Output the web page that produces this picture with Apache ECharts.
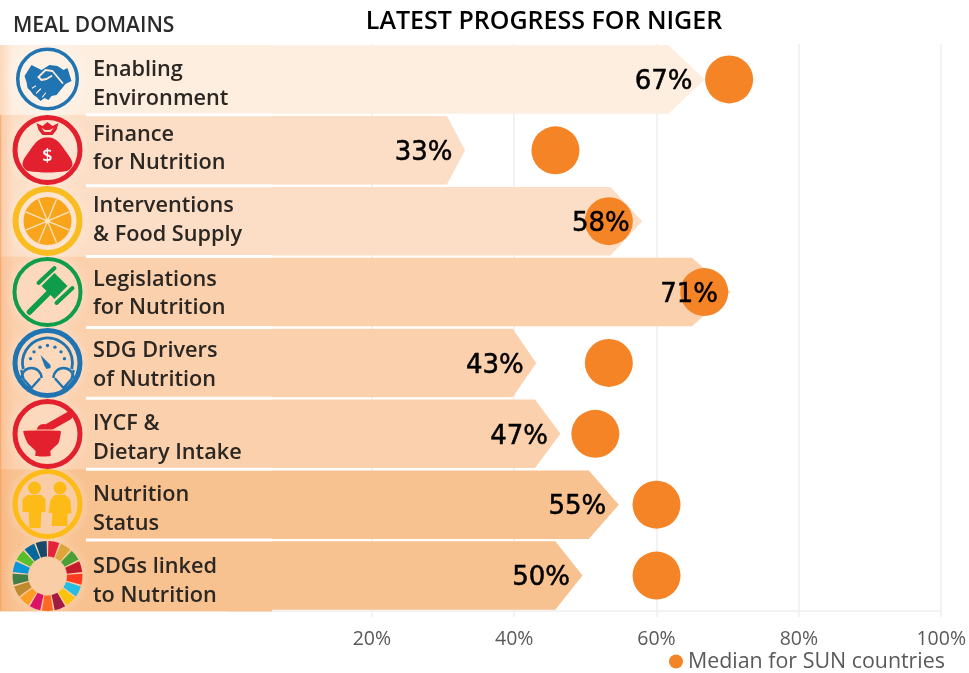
<!DOCTYPE html>
<html><head><meta charset="utf-8">
<style>html,body{margin:0;padding:0;background:#fff}#c{width:969px;height:673px}</style>
<script src="https://cdn.jsdelivr.net/npm/echarts@6/dist/echarts.min.js"></script>
</head><body><div id="c"></div>
<script>
const domainLines = [["Enabling","Environment"],["Finance","for Nutrition"],["Interventions","& Food Supply"],["Legislations","for Nutrition"],["SDG Drivers","of Nutrition"],["IYCF &","Dietary Intake"],["Nutrition","Status"],["SDGs linked","to Nutrition"]];
const categories = domainLines.map(d => d.join(" "));
const printedPercent = [67,33,58,71,43,47,55,50];
const barEnds = [66.8,33.1,58,70.4,43.1,46.5,54.7,49.6];
const medianSun = [70.2,45.8,53.3,66.7,53.3,51.4,60,60];
const tickValues = [20,40,60,80,100];
const rowColors = ["#fdeee0","#fcdec6","#fcdec6","#fbd0ad","#fbd0ad","#fbd0ad","#f8c190","#f8c190"];
const sdgColors = ["#e5243b","#dda63a","#4c9f38","#c5192d","#ff3a21","#26bde2","#fcc30b","#a21942","#fd6925","#dd1367","#fd9d24","#bf8b2e","#3f7e44","#0a97d9","#56c02b","#00689d","#19486a"];

const Z = 100, PL = 272, TOP = 44, BAND = 70.875;
const g = [];
const add = o => { o.z = Z + (o.z || 0); o.silent = true; g.push(o); };
const rowY = i => TOP + BAND * i;
// panel
rowColors.forEach((c,i)=> add({type:'rect',shape:{x:0,y:i===0?45:rowY(i),width:PL,height:i===0?BAND-1:BAND+0.5},style:{fill:c}}));
add({type:'rect',shape:{x:0,y:45,width:12,height:BAND-1},style:{fill:{type:'linear',x:0,y:0,x2:1,y2:0,colorStops:[{offset:0,color:'rgba(250,190,140,0.45)'},{offset:1,color:'rgba(250,190,140,0)'}]}},z:1});
add({type:'rect',shape:{x:0,y:rowY(1),width:14,height:BAND*7},style:{fill:{type:'linear',x:0,y:0,x2:1,y2:0,colorStops:[{offset:0,color:'rgba(246,150,75,0.85)'},{offset:0.14,color:'rgba(247,170,110,0.3)'},{offset:1,color:'rgba(247,170,110,0)'}]}},z:1});
for(let i=1;i<8;i++) add({type:'rect',shape:{x:86,y:rowY(i)-1.6,width:PL-86,height:3},style:{fill:'#fff'},z:2});

const cx = 47.5, cys=[79,150,221,292,363,434,504,576];
const rOuter=[31.5,35,35,35,35,35,35,35], rw=[3.5,5,6,4,5,5,5,0];
const ringCol=['#1f74b1','#e3202e','#f9bd22','#0f9d4b','#1f74b1','#e3202e','#fdbb18',''];
cys.forEach((cy,i)=>{
  add({type:'circle',shape:{cx,cy,r:44},style:{fill:{type:'radial',x:.5,y:.5,r:.5,colorStops:[{offset:0,color:'rgba(255,255,255,0.2)'},{offset:.75,color:'rgba(255,255,255,0.18)'},{offset:1,color:'rgba(255,255,255,0)'}]}},z:1});
  if(rw[i]) add({type:'circle',shape:{cx,cy,r:rOuter[i]-rw[i]/2},style:{fill:'none',stroke:ringCol[i],lineWidth:rw[i]},z:3});
});
const poly=(i,pts,fill,smooth)=>add({type:'polygon',shape:{points:pts.map(p=>[cx+p[0],cys[i]+p[1]]),smooth:smooth||0},style:{fill},z:4});
const line=(i,a,b,stroke,w,z)=>add({type:'line',shape:{x1:cx+a[0],y1:cys[i]+a[1],x2:cx+b[0],y2:cys[i]+b[1]},style:{stroke,lineWidth:w,lineCap:'round'},z:z||4});
const pl=(i,pts,stroke,w,z)=>add({type:'polyline',shape:{points:pts.map(p=>[cx+p[0],cys[i]+p[1]])},style:{stroke,lineWidth:w,fill:'none',lineCap:'round',lineJoin:'round'},z:z||5});
const dot=(i,x,y,r,fill,z)=>add({type:'circle',shape:{cx:cx+x,cy:cys[i]+y,r},style:{fill},z:z||4});
// handshake
poly(0,[[-23,-3],[-16,-14],[-6,-9],[2,-14],[10,-13],[16,-9],[20,-11],[24,2],[18,5],[9,16],[4,17],[1,21],[-3,19],[-7,22],[-11,18],[-14,16],[-17,12],[-20,9],[-21,3]],'#1f74b1');
pl(0,[[-9,-2],[-2,-9],[5,-8],[15,4]],'#fde9d8',1.8);
pl(0,[[-9,-2],[-6,1],[-1,0],[4,-3]],'#fde9d8',1.8);
pl(0,[[-15,9],[-12,7]],'#fde9d8',1.2);pl(0,[[-11,14],[-7,10]],'#fde9d8',1.2);pl(0,[[-5,18],[-2,14]],'#fde9d8',1.2);
// bag
poly(1,[[-7,-11],[7,-11],[18,1],[25,14],[19,21],[-19,21],[-25,14],[-18,1]],'#e3202e',0.35);
poly(1,[[-11,-27],[-5,-24],[0,-28],[5,-24],[11,-27],[9,-20],[5,-15],[-5,-15],[-9,-20]],'#e3202e');
poly(1,[[-6,-22],[-2,-20],[2,-20],[6,-22],[3,-18],[-3,-18]],'#fcdec6');
add({type:'text',style:{x:cx,y:cys[1]+7,text:'$',fill:'#fff',font:'600 18px "Open Sans"',align:'center',verticalAlign:'middle'},z:5});
// citrus
dot(2,0,0,24,'#f9a51c');
for(let k=0;k<4;k++){const a=Math.PI/8+k*Math.PI/4,x=23*Math.cos(a),y=23*Math.sin(a);line(2,[-x,-y],[x,y],'#fde3c0',1.3,5);}
dot(2,0,0,2.5,'#fde3c0',6);
// gavel
poly(3,[[-6,-6],[7,-19],[20,-6],[7,7]],'#0f9d4b');
line(3,[-18,20],[2,0],'#0f9d4b',5.5);
line(3,[-9,-9],[7,-24],'#0f9d4b',4);
line(3,[9,11],[25,-4],'#0f9d4b',4);
// gauge
const c4='#1f74b1';
add({type:'arc',shape:{cx,cy:cys[4],r:25,startAngle:Math.PI*0.92,endAngle:Math.PI*2.08,clockwise:true},style:{stroke:c4,lineWidth:2.8,fill:'none'},z:4});
[-1,1].forEach(s=>{add({type:'arc',shape:{cx:cx+s*16,cy:cys[4]+15,r:10,startAngle:Math.PI*1.0,endAngle:Math.PI*2.0,clockwise:true},style:{stroke:c4,lineWidth:2.4,fill:'none'},z:4});});
pl(4,[[-26,8],[-24,16],[-16,25],[-8,16]],c4,2.4,4);pl(4,[[26,8],[24,16],[16,25],[8,16]],c4,2.4,4);
for(let k=0;k<7;k++){const a=Math.PI*(1.08+k*0.14);dot(4,17.5*Math.cos(a),17.5*Math.sin(a),1.7,c4);}
poly(4,[[-7,-8],[3,2],[3,5],[-1,6],[-3,3]],c4);
// bowl
const c5='#e3202e';
poly(5,[[-24,-3],[13,-3],[11,9],[3,17],[3,22],[-12,22],[-12,17],[-20,9]],c5,0.15);
dot(5,-4,-3,7,c5);line(5,[-2,-5],[21,-18],c5,8);line(5,[-24,-4],[14,-4],'#fbd0ad',1.2,5);
// people
const c6='#fdbb18';
dot(6,-13,-16,6.5,c6);dot(6,12.5,-16,6.5,c6);
poly(6,[[-20,-9],[-6,-9],[-2,-5],[-2,8],[-6,8],[-7,24],[-18,24],[-19,8],[-25,8],[-25,-5]],c6);
poly(6,[[7,-9],[18,-9],[23,-4],[24,9],[20,10],[20,22],[4,22],[5,9],[1,9],[3,-4]],c6);
// SDG wheel
sdgColors.forEach((c,k)=>{const st=-Math.PI/2+k*2*Math.PI/17;add({type:'sector',shape:{cx,cy:cys[7],r:35,r0:19.5,startAngle:st+0.025,endAngle:st+2*Math.PI/17-0.025,clockwise:true},style:{fill:c},z:3});});
// labels
const labY=[[67,96],[132,160],[203,232],[277,305],[348,377],[421,450],[492,521],[564,593]];
domainLines.forEach((l,i)=>l.forEach((t,j)=>add({type:'text',style:{x:93,y:labY[i][j]+2.5,text:t,fill:'#2b2723',font:'600 21.7px "Open Sans"',verticalAlign:'middle'},z:6})));
const titleEls=[{type:'text',z:Z,silent:true,style:{x:13,y:26,text:'MEAL DOMAINS',fill:'#2b2b2b',font:'600 21px "Open Sans"',verticalAlign:'middle'}},
 {type:'text',z:Z,silent:true,style:{x:544,y:22,text:'LATEST PROGRESS FOR NIGER',fill:'#000',font:'600 25px "Open Sans"',align:'center',verticalAlign:'middle'}}];
titleEls.forEach(t=>g.push(t));

const chart = echarts.init(document.getElementById('c'),null,{renderer:'canvas'});
chart.setOption({
  animation:false,
  grid:{left:229.5,right:27,top:TOP,bottom:673-611,containLabel:false},
  xAxis:{type:'value',min:0,max:100,interval:20,
    axisLine:{show:true,lineStyle:{color:'#eeeeee',width:1.5}},
    axisTick:{show:true,length:6,lineStyle:{color:'#eeeeee',width:1.5},customValues:tickValues},
    axisLabel:{margin:18,color:'#595959',fontFamily:'"Open Sans"',fontSize:19.5,customValues:tickValues,formatter:v=>v+'%'},
    splitLine:{show:true,lineStyle:{color:'#eeeeee',width:1.5}}},
  yAxis:{type:'category',inverse:true,data:categories,show:false},
  legend:{data:['Median for SUN countries'],left:664,top:646,icon:'circle',itemWidth:14,itemHeight:14,itemGap:6,textStyle:{color:'#595959',fontSize:21.4,fontFamily:'"Open Sans"',padding:[8,0,0,0]}},
  series:[
    {type:'custom',name:'Latest progress',z:2,silent:true,
     data:barEnds.map((v,i)=>[v,i]),encode:{x:0,y:1},
     renderItem(params,api){
       const v=api.value(0),i=api.value(1);
       const tip=api.coord([v,i]),sh=api.coord([v*0.923,i]),base=api.coord([0,i]);
       const h=api.size([0,1])[1],half=h/2-1.2;
       const cy=tip[1];
       return {type:'polygon',shape:{points:[[base[0],cy-half],[sh[0],cy-half],[tip[0],cy],[sh[0],cy+half],[base[0],cy+half]]},style:{fill:rowColors[i]}};
     }},
    {type:'scatter',name:'Median for SUN countries',z:3,symbol:'circle',symbolSize:48,silent:true,
     itemStyle:{color:'#f58426',opacity:1},data:medianSun.map((v,i)=>[v,i])},
    {type:'custom',name:'Printed percent',z:4,silent:true,
     data:barEnds.map((v,i)=>[v,i,printedPercent[i]]),encode:{x:0,y:1},
     renderItem(params,api){
       const p=api.coord([api.value(0),api.value(1)]);
       return {type:'text',style:{x:p[0]-12.5,y:p[1]+3,text:api.value(2)+'%',align:'right',verticalAlign:'middle',fill:'#000',font:'26px "DejaVu Sans"',stroke:'#000',lineWidth:0.5}};
     }}
  ],
  graphic:{elements:g}
});
</script></body></html>
